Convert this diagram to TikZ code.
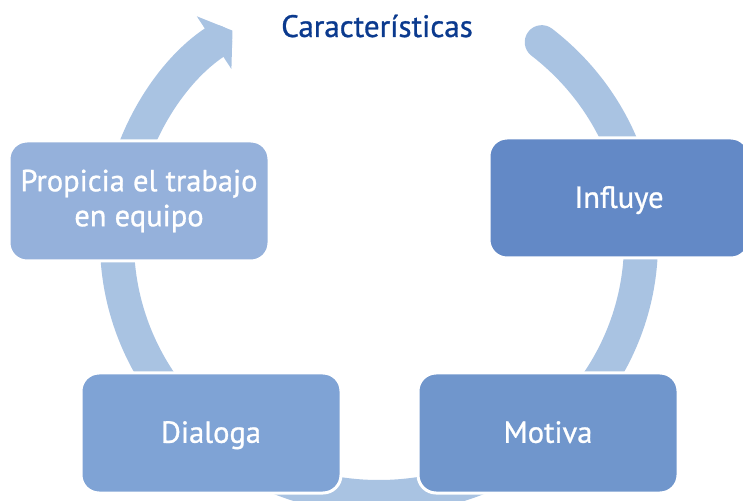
\documentclass[tikz,border=0pt]{standalone}
\usepackage{fontspec}
\setsansfont[FakeBold=0.9]{PT Sans}
\usepackage{tikz}
\usetikzlibrary{calc, arrows.meta}

\definecolor{ringblue}{HTML}{A9C3E2}
\definecolor{titleblue}{HTML}{0B3A8E}
\definecolor{boxa}{HTML}{95B1DB}
\definecolor{boxb}{HTML}{7FA3D5}
\definecolor{boxc}{HTML}{7096CC}
\definecolor{boxd}{HTML}{6389C6}

\begin{document}
\begin{tikzpicture}[x=1pt, y=1pt,
		card/.style = {rectangle, rounded corners=18pt, draw=white, line width=3pt,
			minimum width=260pt, minimum height=120pt, align=center,
			text=white, font=\sffamily\fontsize{30.5}{35}\selectfont},
		ring/.style = {draw=ringblue, line width=34pt, line cap=round}]
		\useasboundingbox (0,0) rectangle (743,500);
		\coordinate (hub) at (379,258);
		\coordinate (ringstart) at ($(hub)+(51.6:262 and 255)$);
		\draw[ring, -{Triangle[length=22pt, width=62pt]}] (ringstart)
			arc[start angle=51.6, end angle=-236, x radius=262pt, y radius=255pt];
		\node at (377,463) (title) [anchor=base, text=titleblue, font=\sffamily\fontsize{31}{35}\selectfont] {Características};
		\node at (139,299) (p1) [card, fill=boxa] {Propicia el trabajo\\en equipo};
		\node at (619,302) (p2) [card, fill=boxd, text depth=2pt] {Influye};
		\node at (548,67)  (p3) [card, fill=boxc, text depth=2pt] {Motiva};
		\node at (211,67)  (p4) [card, fill=boxb, text depth=2pt] {Dialoga};
		\end{tikzpicture}
\end{document}
